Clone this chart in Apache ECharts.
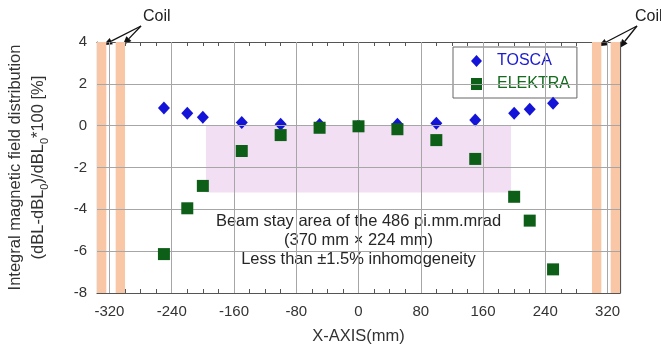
<!DOCTYPE html>
<html><head><meta charset="utf-8">
<script src="https://cdn.jsdelivr.net/npm/echarts@6/dist/echarts.min.js"></script>
<style>html,body{margin:0;padding:0;background:#fff}#c{width:661px;height:346px}</style>
</head><body><div id="c"></div>
<script>
// ---- data ----
const xMin = -336, xMax = 336;
const xTickLabels = [-320, -240, -160, -80, 0, 80, 160, 240, 320];
const xMinorTicks = [-320, -300, -280, -260, -240, -220, -200, -180, -160, -140, -120, -100, -80, -60, -40, -20, 0,
  20, 40, 60, 80, 100, 120, 140, 160, 180, 200, 220, 240, 260, 280, 300, 320];
const yTickLabels = [-8, -6, -4, -2, 0, 2, 4];
const yGridLines = [-6, -4, -2, 0, 2];

const toscaX   = [-250, -220, -200, -150, -100, -50, 0, 50, 100, 150, 200, 220, 250];
const toscaY   = [0.85, 0.59, 0.40, 0.15, 0.07, 0.05, 0.0, 0.07, 0.11, 0.27, 0.59, 0.78, 1.07];
const elektraX = [-250, -220, -200, -150, -100, -50, 0, 50, 100, 150, 200, 220, 250];
const elektraY = [-6.14, -3.95, -2.88, -1.21, -0.45, -0.10, -0.03, -0.17, -0.69, -1.59, -3.40, -4.54, -6.87];

const coilBands = [[-336, -324], [-312, -300], [300, 312], [324, 336]];
const beamX = [-196, 196];
const beamY = [-3.2, 0];
const coilArrowTipsLeft = [[-328, 3.85], [-303, 3.85]];
const coilArrowTipsRight = [[308, 3.8], [335, 3.7]];
const annotationLines = ['Beam stay area of the 486 pi.mm.mrad', '(370 mm \u00d7 224 mm)', 'Less than \u00b11.5% inhomogeneity'];

// ---- chart ----
const FONT = '"Liberation Sans", Arial, Helvetica, sans-serif';
const chart = echarts.init(document.getElementById('c'), null, {renderer: 'canvas'});
const axisCol = '#555';
const pair = (xs, ys) => xs.map((x, i) => [x, ys[i]]);

const option = {
  animation: false,
  textStyle: {fontFamily: FONT},
  grid: {left: 97, right: 41, top: 42, bottom: 53, containLabel: false, outerBoundsMode: 'none'},
  legend: {
    orient: 'vertical', left: 453, top: 47,
    padding: [6, 7, 6, 18], itemGap: 7, itemWidth: 11, itemHeight: 12,
    backgroundColor: '#fff', borderColor: '#666', borderWidth: 1, borderRadius: 0,
    textStyle: {fontSize: 16, fontFamily: FONT, padding: [0, 0, 0, 10]},
    data: [
      {name: 'TOSCA', icon: 'diamond', itemStyle: {borderWidth: 0}, textStyle: {color: '#1a1ad0'}},
      {name: 'ELEKTRA', icon: 'rect', itemStyle: {borderWidth: 0}, textStyle: {color: '#146b1e'}}
    ]
  },
  xAxis: [
    {
      type: 'value', min: xMin, max: xMax, position: 'bottom',
      name: 'X-AXIS(mm)', nameLocation: 'middle', nameGap: 35,
      nameTextStyle: {fontSize: 16.5, color: '#333', fontFamily: FONT},
      axisLine: {show: true, onZero: false, lineStyle: {color: axisCol, width: 1.2}},
      axisTick: {show: true, inside: true, length: 4, customValues: xMinorTicks, lineStyle: {color: axisCol}},
      axisLabel: {show: true, customValues: xTickLabels, fontSize: 15, color: '#333', margin: 11, fontFamily: FONT},
      splitLine: {show: false}
    },
    {
      type: 'value', min: xMin, max: xMax, position: 'top',
      axisLine: {show: true, onZero: false, lineStyle: {color: axisCol, width: 1.2}},
      axisTick: {show: true, inside: true, length: 4, customValues: xMinorTicks, lineStyle: {color: axisCol}},
      axisLabel: {show: false},
      splitLine: {show: false}
    }
  ],
  yAxis: [
    {
      type: 'value', min: -8, max: 4, interval: 2, position: 'left',
      name: '{t|Integral magnetic field distribution}\n{t|(dBL-dBL}{s|0}{t|)/dBL}{s|0}{t|*100 [%]}',
      nameLocation: 'middle', nameGap: 47, nameRotate: 90,
      nameTextStyle: {
        color: '#333', fontFamily: FONT,
        rich: {
          t: {fontSize: 16.5, lineHeight: 23, color: '#333', fontFamily: FONT},
          s: {fontSize: 11, lineHeight: 12, verticalAlign: 'bottom', color: '#333', fontFamily: FONT}
        }
      },
      axisLine: {show: true, onZero: false, lineStyle: {color: axisCol, width: 1.2}},
      axisTick: {show: true, inside: true, length: 4, lineStyle: {color: axisCol}},
      minorTick: {show: true, splitNumber: 4, length: 4, lineStyle: {color: axisCol}},
      axisLabel: {fontSize: 15, color: '#333', margin: 10, fontFamily: FONT},
      splitLine: {show: false}
    },
    {
      type: 'value', min: -8, max: 4, interval: 2, position: 'right',
      axisLine: {show: true, onZero: false, lineStyle: {color: axisCol, width: 1.2}},
      axisTick: {show: true, inside: true, length: 4, lineStyle: {color: axisCol}},
      minorTick: {show: true, splitNumber: 4, length: 4, lineStyle: {color: axisCol}},
      axisLabel: {show: false},
      splitLine: {show: false}
    }
  ],
  series: [
    {
      name: 'areas', type: 'line', data: [], z: 1, silent: true,
      markArea: {
        silent: true,
        data: coilBands.map(b => [
          {xAxis: b[0], itemStyle: {color: '#f9c6a6'}}, {xAxis: b[1]}
        ]).concat([[
          {xAxis: beamX[0], yAxis: beamY[1], itemStyle: {color: '#f3dff4'}},
          {xAxis: beamX[1], yAxis: beamY[0]}
        ]])
      }
    },
    {
      name: 'gridlines', type: 'line', data: [], z: 2, silent: true,
      markLine: {
        silent: true, symbol: ['none', 'none'], label: {show: false},
        lineStyle: {color: '#a6a6a6', width: 1, type: 'solid'},
        emphasis: {disabled: true},
        data: xTickLabels.map(v => ({xAxis: v})).concat(yGridLines.map(v => ({yAxis: v})))
      }
    },
    {
      name: 'TOSCA', type: 'scatter', z: 4, symbol: 'diamond', symbolSize: [12, 13],
      itemStyle: {color: '#1414d8', opacity: 1},
      data: pair(toscaX, toscaY)
    },
    {
      name: 'ELEKTRA', type: 'scatter', z: 5, symbol: 'rect', symbolSize: 12,
      itemStyle: {color: '#0d5e17', opacity: 1},
      data: pair(elektraX, elektraY)
    }
  ]
};
chart.setOption(option);

// ---- annotations (positions derived from the axes) ----
function arrow(from, to) {
  const dx = to[0] - from[0], dy = to[1] - from[1];
  const len = Math.sqrt(dx * dx + dy * dy), ux = dx / len, uy = dy / len;
  const hl = 9, hw = 3.5;
  const bx = to[0] - ux * hl, by = to[1] - uy * hl;
  return [
    {type: 'line', silent: true, shape: {x1: from[0], y1: from[1], x2: bx, y2: by}, style: {stroke: '#111', lineWidth: 1.3}},
    {type: 'polygon', silent: true, shape: {points: [to, [bx - uy * hw, by + ux * hw], [bx + uy * hw, by - ux * hw]]}, style: {fill: '#111'}}
  ];
}
const px = p => chart.convertToPixel({xAxisIndex: 0, yAxisIndex: 0}, p);
const center = px([(beamX[0] + beamX[1]) / 2, -5.5]);
const els = [
  {type: 'text', silent: true, x: center[0], y: center[1], style: {
    text: annotationLines.join('\n'), align: 'center', verticalAlign: 'middle',
    font: '16.5px ' + FONT, lineHeight: 19, fill: '#262626'}},
  {type: 'text', silent: true, x: 143, y: 17, style: {text: 'Coil', font: '16px ' + FONT, fill: '#222', verticalAlign: 'middle'}},
  {type: 'text', silent: true, x: 635, y: 17, style: {text: 'Coil', font: '16px ' + FONT, fill: '#222', verticalAlign: 'middle'}}
];
coilArrowTipsLeft.forEach(t => els.push(...arrow([141, 26], px(t))));
coilArrowTipsRight.forEach(t => els.push(...arrow([637, 26], px(t))));
chart.setOption({graphic: {elements: els}});
</script>
</body></html>
